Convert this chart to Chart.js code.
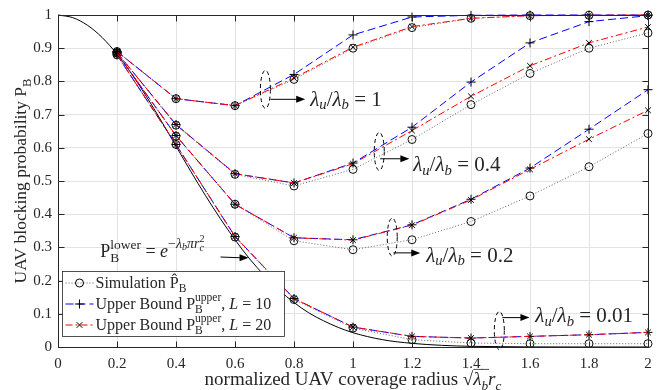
<!DOCTYPE html>
<html>
<head>
<meta charset="utf-8">
<script src="https://cdn.jsdelivr.net/npm/chart.js@4.4.1/dist/chart.umd.min.js"></script>
<style>
  html, body { margin: 0; padding: 0; background: #fff; }
</style>
</head>
<body>
<canvas id="chart" width="663" height="390"></canvas>
<script>
// normalized coverage radius sqrt(lambda_b) r_c
const radius = [0.2, 0.4, 0.6, 0.8, 1.0, 1.2, 1.4, 1.6, 1.8, 2.0];

// lambda_u / lambda_b = 1
const sim_1   = [0.890, 0.748, 0.727, 0.806, 0.900, 0.962, 0.990, 0.998, 0.999, 1.000];
const up10_1  = [0.890, 0.748, 0.727, 0.821, 0.940, 0.994, 0.999, 1.000, 1.000, 1.000];
const up20_1  = [0.890, 0.748, 0.727, 0.810, 0.903, 0.965, 0.990, 0.998, 0.999, 1.000];

// lambda_u / lambda_b = 0.4
const sim_04  = [0.887, 0.668, 0.520, 0.485, 0.535, 0.625, 0.730, 0.824, 0.900, 0.946];
const up10_04 = [0.887, 0.670, 0.522, 0.494, 0.554, 0.662, 0.798, 0.916, 0.980, 0.998];
const up20_04 = [0.887, 0.670, 0.522, 0.494, 0.552, 0.652, 0.755, 0.847, 0.916, 0.964];

// lambda_u / lambda_b = 0.2
const sim_02  = [0.885, 0.635, 0.430, 0.320, 0.293, 0.323, 0.378, 0.455, 0.543, 0.643];
const up10_02 = [0.885, 0.637, 0.430, 0.329, 0.323, 0.368, 0.445, 0.539, 0.656, 0.775];
const up20_02 = [0.885, 0.637, 0.430, 0.329, 0.322, 0.367, 0.443, 0.535, 0.626, 0.713];

// lambda_u / lambda_b = 0.01
const sim_001  = [0.880, 0.610, 0.331, 0.143, 0.057, 0.022, 0.012, 0.010, 0.010, 0.010];
const up10_001 = [0.880, 0.610, 0.333, 0.146, 0.060, 0.032, 0.027, 0.032, 0.037, 0.044];
const up20_001 = [0.880, 0.610, 0.333, 0.146, 0.060, 0.032, 0.027, 0.032, 0.037, 0.044];

// lower bound curve
const lowerX = [0, 0.05, 0.1, 0.15, 0.2, 0.25, 0.3, 0.35, 0.4, 0.45, 0.5, 0.55, 0.6, 0.65, 0.7,
                0.75, 0.8, 0.85, 0.9, 0.95, 1.0, 1.1, 1.2, 1.3, 1.4, 1.5, 1.6, 1.8, 2.0];
const lowerY = [1, 0.992, 0.969, 0.932, 0.882, 0.822, 0.754, 0.681, 0.605, 0.529, 0.456, 0.387, 0.323, 0.265, 0.215,
                0.171, 0.134, 0.103, 0.079, 0.059, 0.043, 0.022, 0.011, 0.005, 0.002, 0.001, 0.0003, 0, 0];

const xTicks = [0, 0.2, 0.4, 0.6, 0.8, 1, 1.2, 1.4, 1.6, 1.8, 2];
const yTicks = [0, 0.1, 0.2, 0.3, 0.4, 0.5, 0.6, 0.7, 0.8, 0.9, 1];

const SERIF = '"Liberation Serif", "Times New Roman", serif';
const INK = '#262626';

function pts(xs, ys) {
    return xs.map((x, i) => ({ x: x, y: ys[i] }));
}

const simStyle = {
    borderColor: '#555', borderWidth: 0.9, borderDash: [1, 2],
    pointStyle: 'circle', pointRadius: 4, pointBorderColor: '#111', pointBackgroundColor: 'rgba(0,0,0,0)',
    pointBorderWidth: 1, order: 3
};
const up10Style = {
    borderColor: '#0000ff', borderWidth: 1, borderDash: [8, 4],
    pointStyle: 'cross', pointRadius: 4.5, pointBorderColor: '#000', pointBorderWidth: 1, order: 2
};
const up20Style = {
    borderColor: '#ff0000', borderWidth: 1, borderDash: [7, 3, 2, 3],
    pointStyle: 'crossRot', pointRadius: 4, pointBorderColor: '#000', pointBorderWidth: 1, order: 1
};

const groups = [
    [sim_1, up10_1, up20_1],
    [sim_04, up10_04, up20_04],
    [sim_02, up10_02, up20_02],
    [sim_001, up10_001, up20_001]
];

const datasets = [{
    label: 'lower',
    data: pts(lowerX, lowerY),
    borderColor: '#000', borderWidth: 1, pointRadius: 0,
    cubicInterpolationMode: 'monotone', order: 4
}];
groups.forEach(g => {
    datasets.push(Object.assign({ label: 'sim', data: pts(radius, g[0]) }, simStyle));
    datasets.push(Object.assign({ label: 'L=10', data: pts(radius, g[1]) }, up10Style));
    datasets.push(Object.assign({ label: 'L=20', data: pts(radius, g[2]) }, up20Style));
});
datasets.forEach(d => { d.clip = 8; d.tension = d.tension || 0; });

// rich text with sub/superscripts
function fontOf(p, size) {
    return (p.i ? 'italic ' : '') + (size * (p.k || 1)).toFixed(1) + 'px ' + SERIF;
}
function drawRich(ctx, parts, x, y, size, align) {
    const pos = [];
    let cx = 0, stackX = null, stackW = 0;
    for (const p of parts) {
        ctx.font = fontOf(p, size);
        const w = ctx.measureText(p.t).width;
        let px;
        if (stackX !== null) { px = stackX; cx = stackX + Math.max(stackW, w); stackX = null; }
        else { px = cx; cx += w; }
        if (p.stack) { stackX = px; stackW = w; cx = px; }
        pos.push({ px: px, w: w });
    }
    const total = cx;
    const x0 = align === 'center' ? x - total / 2 : (align === 'right' ? x - total : x);
    ctx.textAlign = 'left';
    parts.forEach((p, i) => {
        ctx.font = fontOf(p, size);
        const tx = x0 + pos[i].px + (p.dx || 0) * size;
        ctx.fillText(p.t, tx, y + (p.dy || 0) * size);
        if (p.over) {
            ctx.beginPath();
            ctx.lineWidth = 0.8;
            ctx.moveTo(tx, y - size * 0.82);
            ctx.lineTo(tx + pos[i].w + 1, y - size * 0.82);
            ctx.stroke();
        }
    });
    return total;
}

function ratio(val) {
    return [
        { t: 'λ', i: true }, { t: 'u', i: true, k: 0.7, dy: 0.25 }, { t: '/' },
        { t: 'λ', i: true }, { t: 'b', i: true, k: 0.7, dy: 0.25 }, { t: ' = ' + val }
    ];
}

// annotation anchors in data units
const notes = [
    { label: '1',    ex: 0.703, ey: 0.776, ay: 0.746, ax0: 0.72,  ax1: 0.838, tx: 0.855, ty: 0.746 },
    { label: '0.4',  ex: 1.089, ey: 0.589, ay: 0.567, ax0: 1.092, ax1: 1.191, tx: 1.204, ty: 0.550 },
    { label: '0.2',  ex: 1.133, ey: 0.331, ay: 0.2835, ax0: 1.137, ax1: 1.228, tx: 1.248, ty: 0.276 },
    { label: '0.01', ex: 1.496, ey: 0.0495, ay: 0.0885, ax0: 1.506, ax1: 1.598, tx: 1.618, ty: 0.094 }
];

function arrow(ctx, x0, y0, x1, y1) {
    ctx.beginPath();
    ctx.moveTo(x0, y0);
    ctx.lineTo(x1 - 6, y1);
    ctx.stroke();
    ctx.beginPath();
    ctx.moveTo(x1, y1);
    ctx.lineTo(x1 - 9, y1 - 3.5);
    ctx.lineTo(x1 - 9, y1 + 3.5);
    ctx.closePath();
    ctx.fill();
}

const decor = {
    id: 'decor',
    afterDatasetsDraw(chart) {
        const { ctx, scales: { x, y } } = chart;
        ctx.save();
        ctx.strokeStyle = '#000';
        ctx.fillStyle = '#000';
        ctx.lineWidth = 1;
        notes.forEach(n => {
            const cx = x.getPixelForValue(n.ex), cy = y.getPixelForValue(n.ey);
            ctx.setLineDash([4, 3]);
            ctx.beginPath();
            ctx.ellipse(cx, cy, 5, 19, 0, 0, Math.PI * 2);
            ctx.stroke();
            ctx.setLineDash([]);
            arrow(ctx, x.getPixelForValue(n.ax0), y.getPixelForValue(n.ay),
                  x.getPixelForValue(n.ax1), y.getPixelForValue(n.ay));
            ctx.fillStyle = INK;
            ctx.textBaseline = 'middle';
            drawRich(ctx, ratio(n.label), x.getPixelForValue(n.tx), y.getPixelForValue(n.ty) + 1, 21, 'left');
            ctx.fillStyle = '#000';
        });

        // lower bound label
        arrow(ctx, x.getPixelForValue(0.551), y.getPixelForValue(0.271),
              x.getPixelForValue(0.646), y.getPixelForValue(0.2685));
        ctx.fillStyle = INK;
        ctx.textBaseline = 'alphabetic';
        drawRich(ctx, [
            { t: 'P' }, { t: 'lower', k: 0.75, dy: -0.45, stack: true }, { t: 'B', k: 0.75, dy: 0.3 },
            { t: ' = ' }, { t: 'e', i: true },
            { t: '−', k: 0.78, dy: -0.5 }, { t: 'λ', i: true, k: 0.78, dy: -0.5 },
            { t: 'b', i: true, k: 0.56, dy: -0.36 }, { t: 'π', i: true, k: 0.78, dy: -0.5 },
            { t: 'r', i: true, k: 0.78, dy: -0.5 }, { t: '2', k: 0.56, dy: -0.8, stack: true },
            { t: 'c', i: true, k: 0.56, dy: -0.34 }
        ], x.getPixelForValue(0.143), y.getPixelForValue(0.29) + 6, 18, 'left');
        ctx.restore();
    },
    afterDraw(chart) {
        const { ctx, chartArea: a, scales: { x, y } } = chart;
        ctx.save();
        const L = Math.round(a.left) + 0.5, R = Math.round(a.right) + 0.5;
        const T = Math.round(a.top) + 0.5, B = Math.round(a.bottom) + 0.5;
        ctx.strokeStyle = INK;
        ctx.lineWidth = 1;
        ctx.strokeRect(L, T, R - L, B - T);
        ctx.beginPath();
        xTicks.forEach(v => {
            const px = Math.round(x.getPixelForValue(v)) + 0.5;
            ctx.moveTo(px, B); ctx.lineTo(px, B - 6);
            ctx.moveTo(px, T); ctx.lineTo(px, T + 6);
        });
        yTicks.forEach(v => {
            const py = Math.round(y.getPixelForValue(v)) + 0.5;
            ctx.moveTo(L, py); ctx.lineTo(L + 6, py);
            ctx.moveTo(R, py); ctx.lineTo(R - 6, py);
        });
        ctx.stroke();

        // axis titles
        ctx.fillStyle = INK;
        ctx.textBaseline = 'alphabetic';
        drawRich(ctx, [
            { t: 'normalized UAV coverage radius ' }, { t: '√' },
            { t: 'λ', i: true, over: true }, { t: 'b', i: true, k: 0.7, dy: 0.25, over: true },
            { t: 'r', i: true }, { t: 'c', i: true, k: 0.7, dy: 0.25 }
        ], (a.left + a.right) / 2, 385, 19, 'center');
        ctx.translate(26, (a.top + a.bottom) / 2);
        ctx.rotate(-Math.PI / 2);
        drawRich(ctx, [{ t: 'UAV blocking probability P' }, { t: 'B', k: 0.72, dy: 0.3 }], 0, 0, 17.5, 'center');
        ctx.setTransform(1, 0, 0, 1, 0, 0);

        // legend
        const bx = Math.round(a.left) + 4.5, by = 271.5, bw = 222, bh = 65;
        ctx.fillStyle = '#fff';
        ctx.fillRect(bx, by, bw, bh);
        ctx.strokeStyle = INK;
        ctx.strokeRect(bx, by, bw, bh);
        const rows = [
            { st: simStyle, parts: [{ t: 'Simulation ' }, { t: 'ˆ', dx: 0.12, dy: -0.22, stack: true }, { t: 'P' }, { t: 'B', k: 0.72, dy: 0.3 }] },
            { st: up10Style, parts: [{ t: 'Upper Bound P' }, { t: 'upper', k: 0.72, dy: -0.42, stack: true }, { t: 'B', k: 0.72, dy: 0.3 }, { t: ', ' }, { t: 'L', i: true }, { t: ' = 10' }] },
            { st: up20Style, parts: [{ t: 'Upper Bound P' }, { t: 'upper', k: 0.72, dy: -0.42, stack: true }, { t: 'B', k: 0.72, dy: 0.3 }, { t: ', ' }, { t: 'L', i: true }, { t: ' = 20' }] }
        ];
        rows.forEach((r, i) => {
            const ry = 283 + i * 21;
            ctx.strokeStyle = r.st.borderColor;
            ctx.lineWidth = 1;
            ctx.setLineDash(r.st.borderDash);
            ctx.beginPath();
            ctx.moveTo(bx + 3, ry); ctx.lineTo(bx + 31, ry);
            ctx.stroke();
            ctx.setLineDash([]);
            ctx.strokeStyle = '#000';
            ctx.fillStyle = 'rgba(0,0,0,0)';
            Chart.helpers.drawPoint(ctx, {
                pointStyle: r.st.pointStyle, radius: r.st.pointRadius, borderWidth: 1
            }, bx + 17, ry);
            ctx.fillStyle = INK;
            ctx.textBaseline = 'middle';
            drawRich(ctx, r.parts, bx + 33, ry + 1, 16, 'left');
        });
        ctx.restore();
    }
};

new Chart(document.getElementById('chart'), {
    type: 'line',
    data: { datasets: datasets },
    plugins: [decor],
    options: {
        responsive: false,
        animation: false,
        devicePixelRatio: 1,
        layout: { padding: { top: 14, right: 15, left: 0, bottom: 0 } },
        plugins: { legend: { display: false }, tooltip: { enabled: false } },
        scales: {
            x: {
                type: 'linear', min: 0, max: 2,
                afterFit: s => { s.height = 43; },
                afterBuildTicks: s => { s.ticks = xTicks.map(v => ({ value: v })); },
                ticks: {
                    padding: 8, color: INK,
                    font: { family: SERIF, size: 15 },
                    callback: v => String(Number(v.toFixed(1)))
                },
                grid: { color: '#e3e3e3', drawTicks: false },
                border: { display: false }
            },
            y: {
                type: 'linear', min: 0, max: 1,
                afterFit: s => { s.width = 58; },
                afterBuildTicks: s => { s.ticks = yTicks.map(v => ({ value: v })); },
                ticks: {
                    padding: 6, color: INK,
                    font: { family: SERIF, size: 15 },
                    callback: v => String(Number(v.toFixed(1)))
                },
                grid: { color: '#e3e3e3', drawTicks: false },
                border: { display: false }
            }
        }
    }
});
</script>
</body>
</html>
